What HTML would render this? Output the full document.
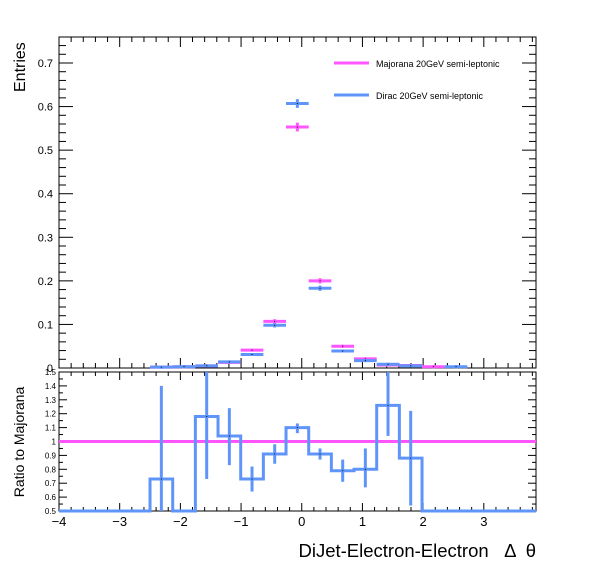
<!DOCTYPE html>
<html><head><meta charset="utf-8"><style>
body{margin:0;background:#fff}
svg{display:block;font-family:"Liberation Sans",sans-serif}
text{white-space:pre}
</style></head><body>
<svg id="c" width="596" height="572"></svg>
<script>
const binStart=-2.5, binW=0.3735;
const majorana=[0.002,0.003,0.005,0.013,0.041,0.107,0.553,0.200,0.050,0.021,0.0068,0.0057,0.003,0];
const dirac=[0.002,0.003,0.005,0.014,0.031,0.098,0.607,0.183,0.039,0.017,0.0085,0.005,0,0.003];
const majErr=[0.001,0.001,0.001,0.002,0.003,0.005,0.01,0.006,0.003,0.002,0.001,0.001,0.001,0];
const dirErr=[0.001,0.001,0.001,0.002,0.003,0.005,0.01,0.006,0.003,0.002,0.001,0.001,0,0.001];
const ratio=[0.73,0.5,1.18,1.04,0.73,0.91,1.10,0.91,0.79,0.80,1.26,0.88,0.5,0.5];
const ratioLo=[0.5,null,0.73,0.83,0.64,0.84,1.06,0.87,0.71,0.67,1.04,0.54,null,null];
const ratioHi=[1.4,null,1.5,1.24,0.82,0.98,1.13,0.95,0.87,0.95,1.5,1.22,null,null];
const yTicks=[0,0.1,0.2,0.3,0.4,0.5,0.6,0.7];
const rTicks=[0.5,0.6,0.7,0.8,0.9,1,1.1,1.2,1.3,1.4,1.5];
const xTicks=[-4,-3,-2,-1,0,1,2,3];

const NS="http://www.w3.org/2000/svg", svg=document.getElementById('c');
const X0=59,X1=536,xmin=-4,xmax=3.86;
const sx=v=>X0+(v-xmin)/(xmax-xmin)*(X1-X0);
const T0=37,T1=368, sy=v=>T1-v/0.7*(T1-63);
const R0=372,R1=511, sr=v=>R1-(v-0.5)*(R1-R0);
const MAG="#ff55ff",BLU="#5f95fa";
function el(tag,a,name,parent){const e=document.createElementNS(NS,tag);for(const k in a)e.setAttribute(k,a[k]);


(parent||svg).appendChild(e);return e;}
function line(x1,y1,x2,y2,c,w,name){return el('line',{x1,y1,x2,y2,stroke:c,'stroke-width':w},name);}
function text(x,y,s,size,anchor,name){const t=el('text',{x,y,'font-size':size,'text-anchor':anchor||'start'},name);t.textContent=s;return t;}

el('rect',{x:X0,y:T0,width:X1-X0,height:T1-T0,fill:'none',stroke:'#000','stroke-width':1},'top-frame');
el('rect',{x:X0,y:R0,width:X1-X0,height:R1-R0,fill:'none',stroke:'#000','stroke-width':1},'ratio-frame');
for(let v=-4;v<=3.86;v+=0.2){const vv=Math.round(v*10)/10;const maj=Math.abs(vv-Math.round(vv))<0.01;const L=maj?10:5;const x=sx(vv);
 line(x,T1,x,T1-L,'#000',1,'x-tick');line(x,T0,x,T0+L,'#000',1,'x-tick-top');
 line(x,R1,x,R1-(maj?8:4),'#000',1,'ratio-x-tick');line(x,R0,x,R0+(maj?8:4),'#000',1,'ratio-x-tick-top');}
xTicks.forEach(v=>text(sx(v),526,v<0?'\u2212'+(-v):String(v),13,'middle','x-tick-label'));
for(let i=0;i<=37;i++){const v=i*0.02;const maj=i%5==0;const y=sy(v);if(y<T0)break;const L=maj?14:7;
 line(X0,y,X0+L,y,'#000',1,'y-tick');line(X1,y,X1-L,y,'#000',1,'y-tick-right');}
yTicks.forEach(v=>text(X0-6,sy(v)+4,String(v),11,'end','y-tick-label'));
for(let i=0;i<=20;i++){const v=0.5+i*0.05;const maj=i%2==0;const y=sr(v);const L=maj?8:4;
 line(X0,y,X0+L,y,'#000',1,'ratio-y-tick');line(X1,y,X1-L,y,'#000',1,'ratio-y-tick-right');}
rTicks.forEach(v=>text(X0-3,sr(v)+3,String(v),8,'end','ratio-y-tick-label'));
const yt=text(0,0,'Entries',16,'end','y-axis-title');yt.setAttribute('transform','translate(25,92) rotate(-90)');yt.setAttribute('text-anchor','start');
const rt=text(0,0,'Ratio to Majorana',14,'middle','ratio-y-axis-title');rt.setAttribute('transform','translate(24,442) rotate(-90)');
text(X1,557,'DiJet-Electron-Electron   \u0394  \u03b8',18.5,'end','x-axis-title');
function series(vals,errs,col,name){vals.forEach((v,i)=>{if(v<=0)return;const a=sx(binStart+i*binW),b=sx(binStart+(i+1)*binW),c=(a+b)/2,y=sy(v);
 line(a,y,b,y,col,3,name+'-bin');const e=Math.max(errs[i]*(sy(0)-sy(1)),1.5);line(c,y-e,c,y+e,col,3,name+'-error');
 el('rect',{x:c-0.5,y:y-0.5,width:1,height:1,fill:'#000'},name+'-marker');});}
series(majorana,majErr,MAG,'majorana');
series(dirac,dirErr,BLU,'dirac');
line(334,63,369,63,MAG,3,'legend-majorana-line');text(376,67,'Majorana 20GeV semi-leptonic',9,'start','legend-majorana');
line(334,95,369,95,BLU,3,'legend-dirac-line');text(376,99,'Dirac 20GeV semi-leptonic',9,'start','legend-dirac');
line(X0,sr(1),X1,sr(1),MAG,3,'ratio-reference-line');
let d='M'+X0+','+sr(0.5)+' H'+sx(binStart);
ratio.forEach((r,i)=>{d+=' V'+sr(Math.min(r,1.5))+' H'+sx(binStart+(i+1)*binW);});
d+=' V'+sr(0.5)+' H'+X1;
el('path',{d,fill:'none',stroke:BLU,'stroke-width':3},'ratio-histogram');
ratio.forEach((r,i)=>{if(ratioLo[i]==null)return;const c=sx(binStart+(i+0.5)*binW);
 line(c,sr(Math.min(ratioHi[i],1.5)),c,sr(Math.max(ratioLo[i],0.5)),BLU,3,'ratio-error');
 el('rect',{x:c-0.5,y:sr(r)-0.5,width:1,height:1,fill:'#000'},'ratio-marker');});
</script>
</body></html>
